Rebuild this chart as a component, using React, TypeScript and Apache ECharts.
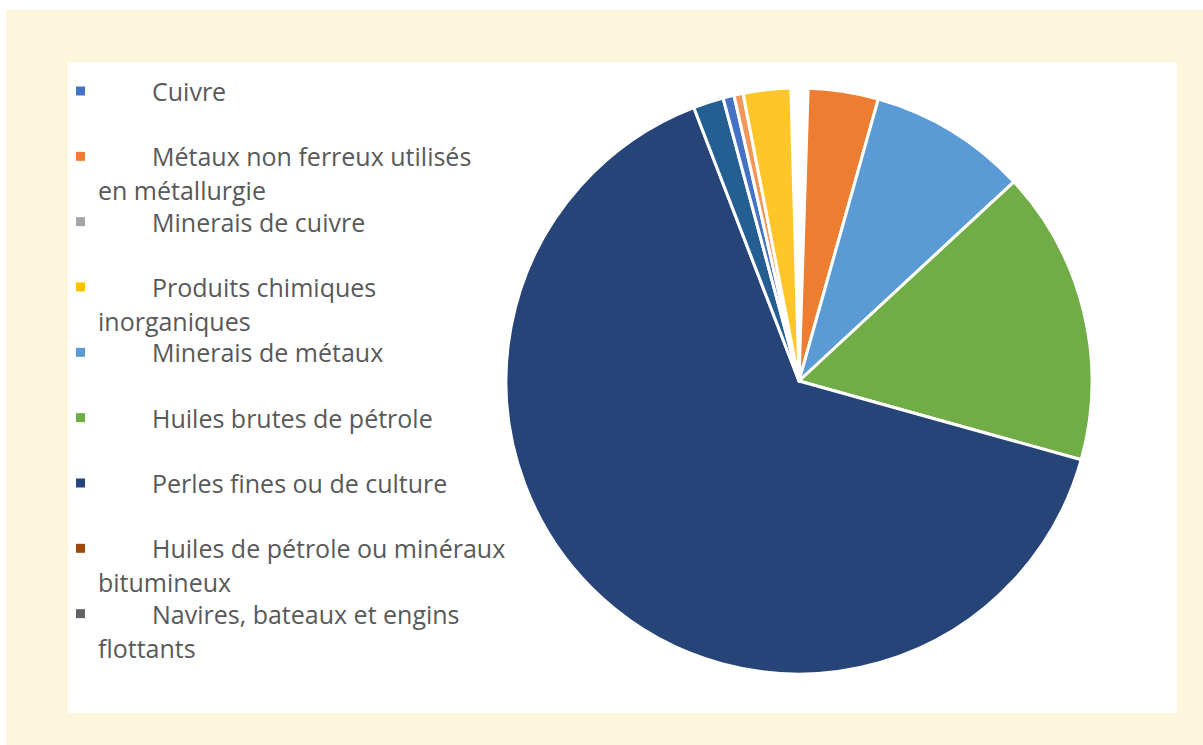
import React, { useEffect, useRef } from "react";
import * as echarts from "echarts";

// Slices in clockwise order from 12 o'clock (values in % of total)
const sliceNames = [
  "Autres",
  "Métaux non ferreux utilisés en métallurgie",
  "Minerais de cuivre",
  "Minerais de métaux",
  "Huiles brutes de pétrole",
  "Perles fines ou de culture",
  "Huiles de pétrole ou minéraux bitumineux",
  "Navires, bateaux et engins flottants",
  "Autres produits",
  "Cuivre",
  "Divers",
  "Produits chimiques inorganiques",
];
const sliceValues = [0.94, 3.86, 0, 8.72, 16.19, 64.69, 0, 0, 1.67, 0.61, 0.5, 2.61];
const sliceColors = [
  "#ffffff",
  "#ED7D31",
  "#A5A5A5",
  "#5B9BD5",
  "#70AD47",
  "#264478",
  "#9E480E",
  "#636363",
  "#255E91",
  "#4472C4",
  "#F1975A",
  "#FFC629",
];

// Legend entries (order as shown) and their wrapped lines
const legendNames = [
  "Cuivre",
  "Métaux non ferreux utilisés en métallurgie",
  "Minerais de cuivre",
  "Produits chimiques inorganiques",
  "Minerais de métaux",
  "Huiles brutes de pétrole",
  "Perles fines ou de culture",
  "Huiles de pétrole ou minéraux bitumineux",
  "Navires, bateaux et engins flottants",
];
const legendLines: string[][] = [
  ["Cuivre", ""],
  ["Métaux non ferreux utilisés", "en métallurgie"],
  ["Minerais de cuivre", ""],
  ["Produits chimiques", "inorganiques"],
  ["Minerais de métaux", ""],
  ["Huiles brutes de pétrole", ""],
  ["Perles fines ou de culture", ""],
  ["Huiles de pétrole ou minéraux", "bitumineux"],
  ["Navires, bateaux et engins", "flottants"],
];
const legendColors = [
  "#4472C4",
  "#ED7D31",
  "#A5A5A5",
  "#FFC000",
  "#5B9BD5",
  "#70AD47",
  "#264478",
  "#9E480E",
  "#636363",
];

export default function App() {
  const ref = useRef<HTMLDivElement>(null);
  useEffect(() => {
    if (!ref.current) return;
    const chart = echarts.init(ref.current, undefined, { renderer: "svg" });
    const LH = 34;
    const FS = 25;
    const FF = "Open Sans";
    const option: any = {
      animation: false,
      backgroundColor: "#ffffff",
      graphic: [
        { type: "rect", z: -10, silent: true, shape: { x: 6, y: 10, width: 1197, height: 735 }, style: { fill: "#FDF5DC" } },
        { type: "rect", z: -9, silent: true, shape: { x: 68, y: 62, width: 1109, height: 651 }, style: { fill: "#ffffff" } },
      ],
      legend: {
        orient: "vertical",
        left: 76,
        top: 40,
        height: 700,
        padding: 0,
        itemGap: 65.33 - 3 * LH,
        itemWidth: 9,
        itemHeight: 9,
        icon: "rect",
        selectedMode: false,
        itemStyle: { borderWidth: 0 },
        data: legendNames.map((n, i) => ({ name: n, itemStyle: { color: legendColors[i], borderWidth: 0 } })),
        formatter: (name: string) => {
          const idx = legendNames.indexOf(name);
          const [l1, l2] = legendLines[idx];
          const second = l2 ? `{i2| }{t|${l2}}` : `{e| }`;
          return `{e| }\n{i1| }{t|${l1}}\n${second}`;
        },
        textStyle: {
          color: "#595959",
          fontFamily: FF,
          fontSize: FS,
          lineHeight: LH,
          rich: {
            e: { width: 1, lineHeight: LH, fontSize: FS, fontFamily: FF },
            i1: { width: 62, lineHeight: LH, fontSize: FS, fontFamily: FF },
            i2: { width: 8, lineHeight: LH, fontSize: FS, fontFamily: FF },
            t: { color: "#595959", lineHeight: LH, fontSize: FS, fontFamily: FF },
          },
        },
      },
      series: [
        {
          type: "pie",
          center: [799, 381],
          radius: 293,
          startAngle: 91.6,
          clockwise: true,
          label: { show: false },
          labelLine: { show: false },
          emphasis: { disabled: true },
          itemStyle: { borderColor: "#ffffff", borderWidth: 3 },
          data: sliceNames.map((n, i) => ({
            name: n,
            value: sliceValues[i],
            itemStyle: { color: sliceColors[i], borderWidth: sliceValues[i] === 0 ? 0 : 3 },
          })),
        },
      ],
    };
    chart.setOption(option);
    return () => chart.dispose();
  }, []);
  return <div ref={ref} style={{ position: "fixed", left: 0, top: 0, width: 1203, height: 745 }} />;
}
